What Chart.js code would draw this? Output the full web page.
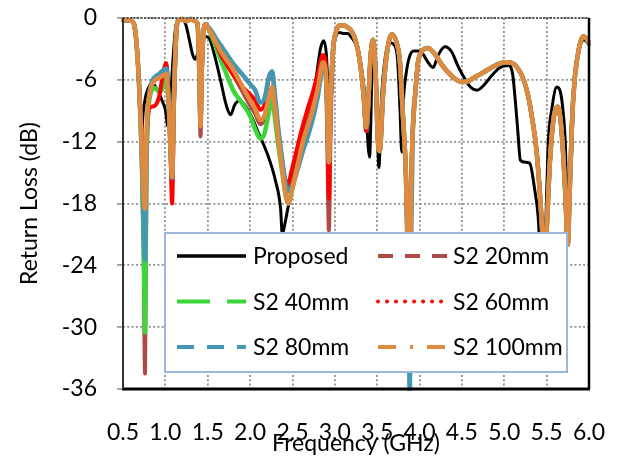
<!DOCTYPE html>
<html>
<head>
<meta charset="utf-8">
<script src="https://cdn.jsdelivr.net/npm/chart.js@4.4.1/dist/chart.umd.min.js"></script>
<style>
  html, body { margin: 0; padding: 0; background: #fff; }
  #wrap { width: 618px; height: 456px; }
</style>
</head>
<body>
<div id="wrap"><canvas id="rl" width="618" height="456"></canvas></div>
<script>
// frequency grid (GHz) shared by the five S2 curves
const s2Freq = [
  0.50, 0.55, 0.60, 0.63, 0.66, 0.69, 0.72, 0.745, 0.76, 0.775,
  0.79, 0.81, 0.84, 0.88, 0.93, 0.97, 1.01, 1.04, 1.06, 1.08,
  1.10, 1.12, 1.14, 1.16, 1.20, 1.25, 1.30, 1.35, 1.38, 1.40,
  1.415, 1.43, 1.45, 1.47, 1.50, 1.55, 1.60, 1.65, 1.70, 1.80,
  1.90, 2.00, 2.06, 2.12, 2.17, 2.22, 2.26, 2.29, 2.33, 2.38,
  2.42, 2.45, 2.49, 2.55, 2.62, 2.68, 2.74, 2.80, 2.86, 2.89,
  2.91, 2.93, 2.95, 2.98, 3.02, 3.06, 3.10, 3.15, 3.20, 3.25,
  3.30, 3.34, 3.37, 3.39, 3.42, 3.45, 3.48, 3.51, 3.53, 3.57,
  3.62, 3.67, 3.73, 3.77, 3.80, 3.84, 3.87, 3.885, 3.90, 3.92,
  3.95, 3.98, 4.03, 4.10, 4.18, 4.26, 4.34, 4.42, 4.50, 4.58,
  4.66, 4.75, 4.85, 4.95, 5.03, 5.10, 5.16, 5.22, 5.28, 5.33,
  5.38, 5.42, 5.45, 5.47, 5.50, 5.54, 5.58, 5.63, 5.66, 5.69,
  5.72, 5.75, 5.77, 5.80, 5.83, 5.86, 5.90, 5.93, 5.96, 6.00
];

// return loss (dB)
const s2_20mm = [
  -0.2, -0.2, -0.3, -0.6, -2.5, -6.5, -13, -24, -34.5, -17,
  -10, -7.8, -6.5, -6.0, -5.8, -5.6, -5.4, -8.5, -12.5, -15.4,
  -8, -3, -0.5, -0.2, -0.1, -0.3, -0.1, -0.3, -0.6, -5.5,
  -11.5, -5.5, -1.5, -0.6, -0.9, -1.6, -2.5, -3.5, -4.2, -5.5,
  -7, -8.5, -9.3, -10.3, -9.8, -7.5, -6.9, -8.5, -11.5, -14.5,
  -16.0, -16.5, -15.2, -13.2, -11.0, -9.4, -7.8, -5.9, -4.0, -4.6,
  -11, -20.6, -11, -3.5, -1.2, -0.7, -0.7, -0.9, -1.3, -2.3,
  -4.5, -7.5, -11, -9.3, -4, -2.1, -5, -12.1, -12.9, -7.3,
  -3.1, -1.6, -2.4, -4.4, -8.9, -15.4, -27, -31, -17, -11,
  -7.3, -4.4, -3.2, -2.9, -3.5, -4.5, -5.3, -5.9, -6.2, -6.1,
  -5.7, -5.3, -4.8, -4.4, -4.3, -4.4, -4.9, -5.8, -7.5, -9.8,
  -12.8, -17, -21, -25, -20.6, -13.8, -9.9, -8.6, -9.6, -12.5,
  -17, -22, -17.5, -10, -6, -4, -2.3, -1.8, -1.9, -2.4
];
const s2_40mm = [
  -0.2, -0.2, -0.3, -0.6, -2.5, -6.5, -13, -22, -30.5, -16,
  -10, -8, -7, -6.8, -7.2, -6.8, -5.8, -8.5, -12.5, -15.4,
  -8, -3, -0.5, -0.2, -0.1, -0.3, -0.1, -0.3, -0.6, -5,
  -10.3, -5, -1.5, -0.6, -0.9, -1.8, -2.9, -4.0, -5.0, -7.0,
  -8.2, -9.5, -10.8, -11.7, -11.2, -9.2, -7.8, -9.5, -12.2, -15,
  -17.2, -18.0, -16.8, -14.8, -12.3, -10.7, -9.1, -7, -4.6, -5.1,
  -8.5, -14, -8, -3, -1.2, -0.7, -0.7, -0.9, -1.3, -2.3,
  -4.5, -7.5, -10.6, -9.0, -4, -2.1, -5, -12.1, -12.9, -7.3,
  -3.1, -1.6, -2.4, -4.4, -8.9, -15.4, -26, -30, -17, -11,
  -7.3, -4.4, -3.2, -2.9, -3.5, -4.5, -5.3, -5.9, -6.2, -6.1,
  -5.7, -5.3, -4.8, -4.4, -4.3, -4.4, -4.9, -5.8, -7.5, -9.8,
  -12.8, -17, -21, -25, -20.6, -13.8, -9.9, -8.6, -9.6, -12.5,
  -17, -22, -17.5, -10, -6, -4, -2.3, -1.8, -1.9, -2.4
];
const s2_60mm = [
  -0.2, -0.2, -0.3, -0.6, -2.5, -6.5, -11, -15, -16, -12,
  -10, -8.8, -8.6, -8.5, -7.5, -5.5, -4.4, -8, -13, -18,
  -9, -3, -0.5, -0.2, -0.1, -0.3, -0.1, -0.3, -0.6, -5,
  -10.5, -5, -1.5, -0.6, -0.9, -1.6, -2.5, -3.5, -4.2, -5.5,
  -6.6, -7.4, -8.0, -8.9, -8.4, -5.8, -5.2, -7.5, -10.8, -14.0,
  -15.8, -16.0, -14.8, -12.8, -10.5, -8.8, -7.2, -5.4, -3.6, -4.2,
  -9, -17.5, -9, -3, -1.2, -0.7, -0.7, -0.9, -1.3, -2.3,
  -4.5, -7.5, -10.9, -9.2, -4, -2.1, -5, -12.1, -12.9, -7.3,
  -3.1, -1.6, -2.4, -4.4, -8.9, -15.4, -26, -30, -17, -11,
  -7.3, -4.4, -3.2, -2.9, -3.5, -4.5, -5.3, -5.9, -6.2, -6.1,
  -5.7, -5.3, -4.8, -4.4, -4.3, -4.4, -4.9, -5.8, -7.5, -9.8,
  -12.8, -17, -21, -25, -20.6, -13.8, -9.9, -8.6, -9.6, -12.5,
  -17, -22, -17.5, -10, -6, -4, -2.3, -1.8, -1.9, -2.4
];
const s2_80mm = [
  -0.2, -0.2, -0.3, -0.6, -2.5, -6.5, -13, -20, -23.5, -14,
  -9.5, -7.4, -6.2, -5.7, -5.4, -5.1, -4.9, -8, -12.5, -15.5,
  -8, -3, -0.5, -0.2, -0.1, -0.3, -0.1, -0.3, -0.6, -5,
  -10.2, -5, -1.5, -0.6, -0.8, -1.3, -2.0, -2.6, -3.2, -4.4,
  -5.4, -6.4, -7.0, -8.2, -7.8, -5.8, -5.2, -7.2, -10.5, -13.8,
  -16.2, -16.8, -16.4, -15.0, -13.0, -11.5, -9.8, -7.6, -4.8, -5.3,
  -8.5, -14, -8, -3, -1.2, -0.7, -0.7, -0.9, -1.3, -2.3,
  -4.5, -7.5, -10.6, -9.0, -4, -2.1, -5, -12.1, -12.9, -7.3,
  -3.1, -1.6, -2.4, -4.4, -8.9, -15.4, -27, -37, -22, -11,
  -7.3, -4.4, -3.2, -2.9, -3.5, -4.5, -5.3, -5.9, -6.2, -6.1,
  -5.7, -5.3, -4.8, -4.4, -4.3, -4.4, -4.9, -5.8, -7.5, -9.8,
  -12.8, -17, -21, -25, -20.6, -13.8, -9.9, -8.6, -9.6, -12.5,
  -17, -22, -17.5, -10, -6, -4, -2.3, -1.8, -1.9, -2.4
];
const s2_100mm = [
  -0.2, -0.2, -0.3, -0.6, -2.5, -6.5, -12, -17.5, -18.5, -12,
  -9, -7.6, -6.5, -6.0, -5.8, -5.6, -5.4, -8.5, -12.5, -15.4,
  -8, -3, -0.5, -0.2, -0.1, -0.3, -0.1, -0.3, -0.6, -5,
  -10.5, -5, -1.5, -0.6, -0.9, -1.6, -2.4, -3.2, -3.8, -5.0,
  -6.5, -8.0, -8.8, -9.9, -9.5, -7.8, -6.7, -8.5, -11.5, -14.7,
  -17.2, -18.0, -16.8, -14.8, -12.1, -10.5, -8.9, -6.8, -4.3, -5.0,
  -8.5, -14, -8, -3, -1.2, -0.7, -0.7, -0.9, -1.3, -2.3,
  -4.5, -7.5, -10.6, -9.0, -4, -2.1, -5, -12.1, -12.9, -7.3,
  -3.1, -1.6, -2.4, -4.4, -8.9, -15.4, -26, -29, -17, -11,
  -7.3, -4.4, -3.2, -2.9, -3.5, -4.5, -5.3, -5.9, -6.2, -6.1,
  -5.7, -5.3, -4.8, -4.4, -4.3, -4.4, -4.9, -5.8, -7.5, -9.8,
  -12.8, -17, -21, -25, -20.6, -13.8, -9.9, -8.6, -9.6, -12.5,
  -17, -22, -17.5, -10, -6, -4, -2.3, -1.8, -1.9, -2.4
];

// the proposed antenna has its own frequency points
const proposedFreq = [
  0.50, 0.60, 0.64, 0.67, 0.70, 0.72, 0.74, 0.77, 0.80, 0.84,
  0.88, 0.92, 0.96, 1.00, 1.03, 1.06, 1.09, 1.12, 1.15, 1.20,
  1.24, 1.28, 1.32, 1.35, 1.38, 1.42, 1.47, 1.52, 1.58, 1.65,
  1.72, 1.77, 1.82, 1.88, 1.95, 2.03, 2.10, 2.15, 2.23, 2.30,
  2.36, 2.38, 2.41, 2.45, 2.52, 2.60, 2.70, 2.78, 2.83, 2.87,
  2.90, 2.93, 2.96, 3.00, 3.05, 3.10, 3.15, 3.20, 3.25, 3.30,
  3.36, 3.41, 3.44, 3.46, 3.49, 3.52, 3.55, 3.60, 3.65, 3.70,
  3.74, 3.77, 3.79, 3.81, 3.84, 3.88, 3.93, 3.98, 4.04, 4.10,
  4.16, 4.22, 4.30, 4.38, 4.45, 4.50, 4.60, 4.68, 4.75, 4.85,
  4.95, 5.05, 5.10, 5.13, 5.16, 5.19, 5.25, 5.30, 5.36, 5.40,
  5.43, 5.46, 5.49, 5.52, 5.56, 5.62, 5.68, 5.72, 5.75, 5.78,
  5.80, 5.83, 5.87, 5.90, 5.93, 5.96, 6.00
];
const proposedRL = [
  -0.3, -0.3, -1.0, -4.0, -9.5, -11.0, -9.0, -7.5, -6.8, -6.3,
  -6.6, -7.2, -8.0, -8.9, -10.5, -8.0, -4.0, -1.0, -0.2, -0.2,
  -0.6, -2.0, -3.5, -4.0, -3.5, -2.4, -1.8, -2.0, -3.6, -6.0,
  -8.5, -9.4, -8.4, -8.0, -8.6, -9.8, -11.2, -12.1, -13.8, -15.8,
  -18.5, -21.0, -20.0, -18.3, -16.0, -12.8, -9.2, -5.8, -3.0, -2.2,
  -3.5, -8.0, -5.0, -2.2, -1.4, -1.5, -1.5, -1.9, -2.6, -4.0,
  -8.0, -13.5, -5.0, -2.6, -6.0, -14.5, -8.0, -3.5, -2.4, -2.6,
  -4.0, -9.0, -13.0, -8.0, -5.5, -3.8, -3.2, -3.2, -3.5, -4.3,
  -4.8, -3.6, -2.8, -3.3, -4.6, -5.4, -6.7, -7.0, -6.6, -5.6,
  -4.8, -4.6, -5.5, -8.0, -11.0, -13.8, -14.0, -14.1, -16.7, -19.3,
  -24.0, -27.0, -20.0, -12.0, -8.9, -6.7, -8.0, -12.1, -20.0, -16.0,
  -12.0, -5.7, -3.5, -2.6, -2.1, -2.2, -2.6
];

const seriesLabels = ['Proposed', 'S2 20mm', 'S2 40mm', 'S2 60mm', 'S2 80mm', 'S2 100mm'];
const seriesColors = ['#000000', '#ad4a46', '#3ad63a', '#ff0000', '#4397b3', '#df8a3e'];
const seriesWidths = [3, 4, 4.5, 4, 4.5, 4.5];
// drawing order: orange on top, black underneath
const seriesOrder = [5, 4, 3, 2, 1, 0];
// dash patterns shown in the legend samples
const legendDash = [[], [15, 12], [33, 17], [0.01, 9], [17, 13], [18, 14, 3, 14]];

const freqTicks = { min: 0.5, max: 6.0, step: 0.5 };
const rlTicks = { min: -36, max: 0, step: 6 };

Chart.defaults.font.family = 'Lato';
Chart.defaults.font.size = 23;
Chart.defaults.color = '#000';

function toPoints(freq, vals) {
  return freq.map((f, i) => ({ x: f, y: vals[i] }));
}

const allValues = [proposedRL, s2_20mm, s2_40mm, s2_60mm, s2_80mm, s2_100mm];
const allFreqs = [proposedFreq, s2Freq, s2Freq, s2Freq, s2Freq, s2Freq];

const datasets = seriesLabels.map((label, i) => ({
  label: label,
  data: toPoints(allFreqs[i], allValues[i]),
  borderColor: seriesColors[i],
  borderWidth: seriesWidths[i],
  order: seriesOrder[i],
  pointRadius: 0,
  cubicInterpolationMode: 'monotone',
  borderJoinStyle: 'round',
  borderCapStyle: 'round',
  clip: 2
}));

// plot frame: left/bottom axes, right and top edges
const frame = {
  id: 'frame',
  afterDatasetsDraw(chart) {
    const { ctx, chartArea: a } = chart;
    ctx.save();
    ctx.strokeStyle = '#555';
    ctx.lineWidth = 2;
    ctx.setLineDash([2, 1.5]);
    ctx.beginPath(); ctx.moveTo(a.left, a.top); ctx.lineTo(a.right, a.top); ctx.stroke();
    ctx.setLineDash([]);
    ctx.strokeStyle = '#000';
    ctx.lineWidth = 2.5;
    ctx.beginPath(); ctx.moveTo(a.right, a.top); ctx.lineTo(a.right, a.bottom); ctx.stroke();
    ctx.lineWidth = 3;
    ctx.beginPath(); ctx.moveTo(a.left - 1, a.bottom); ctx.lineTo(a.right + 1, a.bottom); ctx.stroke();
    ctx.strokeStyle = '#333';
    ctx.lineWidth = 2;
    ctx.beginPath(); ctx.moveTo(a.left, a.top); ctx.lineTo(a.left, a.bottom); ctx.stroke();
    ctx.restore();
  }
};

// boxed legend inside the plot, two columns
const legendBox = {
  id: 'legendBox',
  afterDatasetsDraw(chart) {
    const { ctx, chartArea: a } = chart;
    const bx = a.left + 42, by = a.top + 215, bw = 402, bh = 139;
    ctx.save();
    ctx.fillStyle = '#fff';
    ctx.fillRect(bx, by, bw, bh);
    ctx.strokeStyle = '#9bb7dc';
    ctx.lineWidth = 2;
    ctx.strokeRect(bx, by, bw, bh);
    ctx.font = '23px Lato';
    ctx.textBaseline = 'middle';
    chart.data.datasets.forEach((ds, i) => {
      const col = i % 2, row = Math.floor(i / 2);
      const y = by + 23 + row * 45.5;
      const x = bx + 12 + col * 201;
      ctx.strokeStyle = ds.borderColor;
      ctx.lineWidth = i === 0 ? 3.5 : 4;
      ctx.lineCap = i === 3 ? 'round' : 'butt';
      ctx.setLineDash(legendDash[i]);
      ctx.beginPath(); ctx.moveTo(x, y); ctx.lineTo(x + 69, y); ctx.stroke();
      ctx.setLineDash([]);
      ctx.fillStyle = '#000';
      ctx.fillText(ds.label, bx + 88 + col * 200, y + 1);
    });
    ctx.restore();
  }
};

new Chart(document.getElementById('rl'), {
  type: 'line',
  data: { datasets: datasets },
  options: {
    responsive: false,
    animation: false,
    events: [],
    layout: { padding: { left: 0, top: 18, right: 29, bottom: 0 } },
    plugins: { legend: { display: false }, tooltip: { enabled: false } },
    scales: {
      x: {
        type: 'linear',
        min: freqTicks.min,
        max: freqTicks.max,
        afterFit: (s) => { s.height = 67; s.paddingLeft = 0; s.paddingRight = 0; },
        grid: { color: '#8f8f8f', lineWidth: 1.8, drawTicks: false },
        border: { display: false, dash: [2, 2.3] },
        ticks: {
          stepSize: freqTicks.step,
          autoSkip: false,
          maxRotation: 0,
          padding: 30,
          callback: (v) => v.toFixed(1)
        },
        title: { display: true, text: 'Frequency (GHz)', padding: { top: 0, bottom: -1 } }
      },
      y: {
        min: rlTicks.min,
        max: rlTicks.max,
        afterFit: (s) => { s.width = 123; s.paddingTop = 0; s.paddingBottom = 0; },
        grid: { color: '#8f8f8f', lineWidth: 1.8, tickLength: 6, tickColor: '#8a8a8a', tickWidth: 1.5, tickBorderDash: [] },
        border: { display: false, dash: [2, 2.3] },
        ticks: {
          stepSize: rlTicks.step,
          padding: 20,
          callback: (v) => String(v)
        },
        title: { display: true, text: 'Return Loss (dB)', padding: { top: 16, bottom: 0 } }
      }
    }
  },
  plugins: [frame, legendBox]
});
</script>
</body>
</html>
